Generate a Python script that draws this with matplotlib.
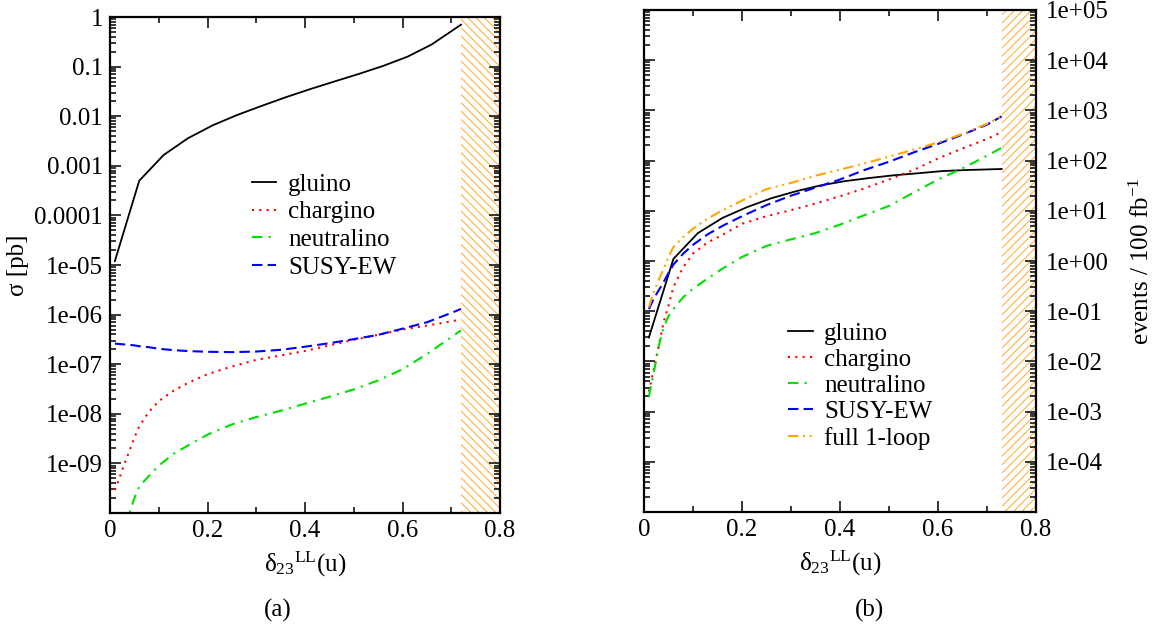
#!/usr/bin/python3
#
# sigma and event rates vs delta_23^LL(u)

import math
import matplotlib
matplotlib.use('Agg')
import matplotlib.pyplot as plt
import matplotlib.ticker as mticker

#
plt.rcParams['font.family'] = ['Liberation Serif', 'DejaVu Serif']
plt.rcParams['mathtext.fontset'] = 'custom'
plt.rcParams['mathtext.rm'] = 'Liberation Serif'
plt.rcParams['mathtext.it'] = 'Liberation Serif:italic'
plt.rcParams['hatch.linewidth'] = 0.8

# gluino grid (same for both panels, last point differs)
x_glu_a = [0.01, 0.06, 0.11, 0.16, 0.21, 0.26, 0.31, 0.36, 0.41, 0.46, 0.51, 0.56, 0.61, 0.66, 0.72]
x_glu_b = [0.01, 0.06, 0.11, 0.16, 0.21, 0.26, 0.31, 0.36, 0.41, 0.46, 0.51, 0.56, 0.61, 0.66, 0.73]

# EW grids
x_ew_a = [0.01, 0.02, 0.03, 0.04, 0.05, 0.06, 0.08, 0.10, 0.13, 0.16, 0.20, 0.25, 0.30, 0.35, 0.40, 0.45, 0.50, 0.55, 0.60, 0.65, 0.70, 0.72]
x_ew_b = [0.01, 0.02, 0.03, 0.04, 0.05, 0.06, 0.08, 0.10, 0.13, 0.16, 0.20, 0.25, 0.30, 0.35, 0.40, 0.45, 0.50, 0.55, 0.60, 0.65, 0.70, 0.73]

# (a) sigma [pb]
gluino_a = [1.2e-5, 5e-4, 1.65e-3, 3.6e-3, 6.5e-3, 1.05e-2, 1.6e-2, 2.4e-2, 3.5e-2, 5.0e-2, 7.1e-2, 0.103, 0.158, 0.28, 0.70]
chargino_a = [2.9e-10, 5.3e-10, 1.0e-9, 1.8e-9, 3.3e-9, 5.6e-9, 1.1e-8, 1.8e-8, 2.9e-8, 4.2e-8, 6.3e-8, 9.0e-8,
	1.22e-7, 1.5e-7, 1.85e-7, 2.4e-7, 3.1e-7, 3.9e-7, 5.0e-7, 6.0e-7, 7.3e-7, 8.0e-7]
neutralino_a = [5e-12, 1.5e-11, 4e-11, 1.0e-10, 2.0e-10, 3.4e-10, 5.6e-10, 9e-10, 1.55e-9, 2.3e-9, 3.8e-9, 6.1e-9,
	8.6e-9, 1.15e-8, 1.6e-8, 2.2e-8, 3.1e-8, 4.7e-8, 7.9e-8, 1.6e-7, 3.5e-7, 4.8e-7]
susyew_a = [2.6e-7, 2.55e-7, 2.5e-7, 2.45e-7, 2.4e-7, 2.3e-7, 2.2e-7, 2.05e-7, 1.92e-7, 1.84e-7, 1.78e-7, 1.75e-7,
	1.8e-7, 1.95e-7, 2.25e-7, 2.65e-7, 3.2e-7, 3.9e-7, 5.2e-7, 7.0e-7, 1.08e-6, 1.3e-6]

# (b) events / 100 fb^-1
gluino_b = [0.03, 1.1, 3.6, 7.2, 11.8, 17.8, 24.5, 32, 39, 45, 51, 56, 62, 65, 68]
chargino_b = [0.0025, 0.007, 0.02, 0.06, 0.13, 0.3, 0.75, 1.4, 2.35, 3.3, 5.5, 7.8,
	10.3, 14, 19.5, 28, 42, 65, 110, 175, 270, 370]
neutralino_b = [0.002, 0.006, 0.02, 0.047, 0.08, 0.11, 0.19, 0.28, 0.45, 0.7, 1.2, 2.0,
	2.7, 3.6, 5.3, 8.2, 12.5, 23, 42, 70, 125, 180]
susyew_b = [0.11, 0.18, 0.26, 0.38, 0.58, 0.85, 1.4, 2.1, 3.4, 5.0, 7.8, 13,
	20, 29, 42, 65, 95, 145, 215, 330, 520, 760]
full_b = [0.12, 0.24, 0.42, 0.7, 1.2, 1.9, 3.0, 4.4, 7.0, 10.2, 16, 27,
	36, 50, 66, 88, 120, 165, 230, 340, 540, 760]

# excluded region start
excl_a = 0.72
excl_b = 0.73

xticks = [0, 0.2, 0.4, 0.6, 0.8]
xtick_labels = ['0', '0.2', '0.4', '0.6', '0.8']

#
styles = {
	'gluino': dict(color='black', linestyle='-', lw=1.3),
	'chargino': dict(color='#ff0000', linestyle=(0, (1, 2.5)), lw=1.5),
	'neutralino': dict(color='#00e000', linestyle=(0, (5, 3, 1, 3)), lw=1.5),
	'SUSY-EW': dict(color='#0000ff', linestyle=(0, (5, 2.5)), lw=1.5),
	'full 1-loop': dict(color='#ffa500', linestyle=(0, (5, 2.2, 1, 2.2, 1, 2.2)), lw=1.5),
}
hatch_col = '#ffb340'
fs = 18


#
def fmt_a(v, pos):
	e = int(round(math.log10(v)))
	if e <= -10 or e > 0:
		return ''
	if e >= -4:
		return {0: '1', -1: '0.1', -2: '0.01', -3: '0.001', -4: '0.0001'}[e]
	return '1e-%02d' % (-e)


#
def fmt_b(v, pos):
	e = int(round(math.log10(v)))
	if e <= -5 or e > 5:
		return ''
	return '1e%+03d' % e


#
def style_axes(ax, ymin, ymax):

	ax.set_xlim(0, 0.8)
	ax.set_yscale('log')
	ax.set_ylim(ymin, ymax)

	ax.set_xticks(xticks)
	ax.set_xticklabels(xtick_labels)
	ax.xaxis.set_minor_locator(mticker.MultipleLocator(0.1))

	ax.yaxis.set_major_locator(mticker.LogLocator(base=10, numticks=30))
	ax.yaxis.set_minor_locator(mticker.LogLocator(base=10, subs=range(2, 10), numticks=30))
	ax.yaxis.set_minor_formatter(mticker.NullFormatter())

	ax.tick_params(which='both', direction='in', top=True, right=True, labelsize=fs, width=1.1)
	ax.tick_params(which='major', length=8)
	ax.tick_params(which='minor', length=4.3)
	ax.tick_params(axis='x', pad=5)
	ax.tick_params(axis='y', pad=5)

	for s in ax.spines.values():
		s.set_linewidth(1.6)


#
def make_plot():

	fig = plt.figure(figsize=(11.52, 6.34), dpi=100)
	dlabel = r'$\mathrm{δ}_{23}{}^{\mathrm{LL}}$(u)'

	# (a)
	ax1 = fig.add_axes([110/1152, 121/634, 390/1152, 496/634])
	ax1.axvspan(excl_a, 0.8, facecolor='none', edgecolor=hatch_col, hatch='\\\\\\\\', lw=0, zorder=0)
	ax1.plot(x_glu_a, gluino_a, label='gluino', **styles['gluino'])
	ax1.plot(x_ew_a, chargino_a, label='chargino', **styles['chargino'])
	ax1.plot(x_ew_a, neutralino_a, label='neutralino', **styles['neutralino'])
	ax1.plot(x_ew_a, susyew_a, label='SUSY-EW', **styles['SUSY-EW'])
	style_axes(ax1, 1e-10, 1)
	ax1.yaxis.set_major_formatter(mticker.FuncFormatter(fmt_a))
	ax1.set_ylabel('σ [pb]', fontsize=fs, labelpad=4)
	ax1.set_xlabel(dlabel, fontsize=fs, labelpad=6)
	ax1.legend(loc='upper left', bbox_to_anchor=(0.364, 0.685), frameon=False, fontsize=fs,
		handlelength=0.95, handletextpad=0.5, labelspacing=0.21, borderpad=0, borderaxespad=0)

	# (b)
	ax2 = fig.add_axes([644/1152, 122/634, 392/1152, 502/634])
	ax2.axvspan(excl_b, 0.8, facecolor='none', edgecolor=hatch_col, hatch='////', lw=0, zorder=0)
	ax2.plot(x_glu_b, gluino_b, label='gluino', **styles['gluino'])
	ax2.plot(x_ew_b, chargino_b, label='chargino', **styles['chargino'])
	ax2.plot(x_ew_b, neutralino_b, label='neutralino', **styles['neutralino'])
	ax2.plot(x_ew_b, susyew_b, label='SUSY-EW', **styles['SUSY-EW'])
	ax2.plot(x_ew_b, full_b, label='full 1-loop', **styles['full 1-loop'])
	style_axes(ax2, 1e-5, 1e5)
	ax2.yaxis.set_major_formatter(mticker.FuncFormatter(fmt_b))
	ax2.tick_params(axis='y', labelleft=False, labelright=True, pad=7)
	ax2.yaxis.set_label_position('right')
	ax2.set_ylabel('events / 100 fb$^{-1}$', fontsize=fs, labelpad=15)
	ax2.set_xlabel(dlabel, fontsize=fs, labelpad=6)
	ax2.legend(loc='upper left', bbox_to_anchor=(0.367, 0.377), frameon=False, fontsize=fs,
		handlelength=1.0, handletextpad=0.45, labelspacing=0.14, borderpad=0, borderaxespad=0)

	fig.text(278/1152, 24/634, '(a)', fontsize=fs, ha='center', va='center')
	fig.text(870/1152, 24/634, '(b)', fontsize=fs, ha='center', va='center')

	fig.savefig('out.png', dpi=100)


if __name__ == '__main__':
	make_plot()
